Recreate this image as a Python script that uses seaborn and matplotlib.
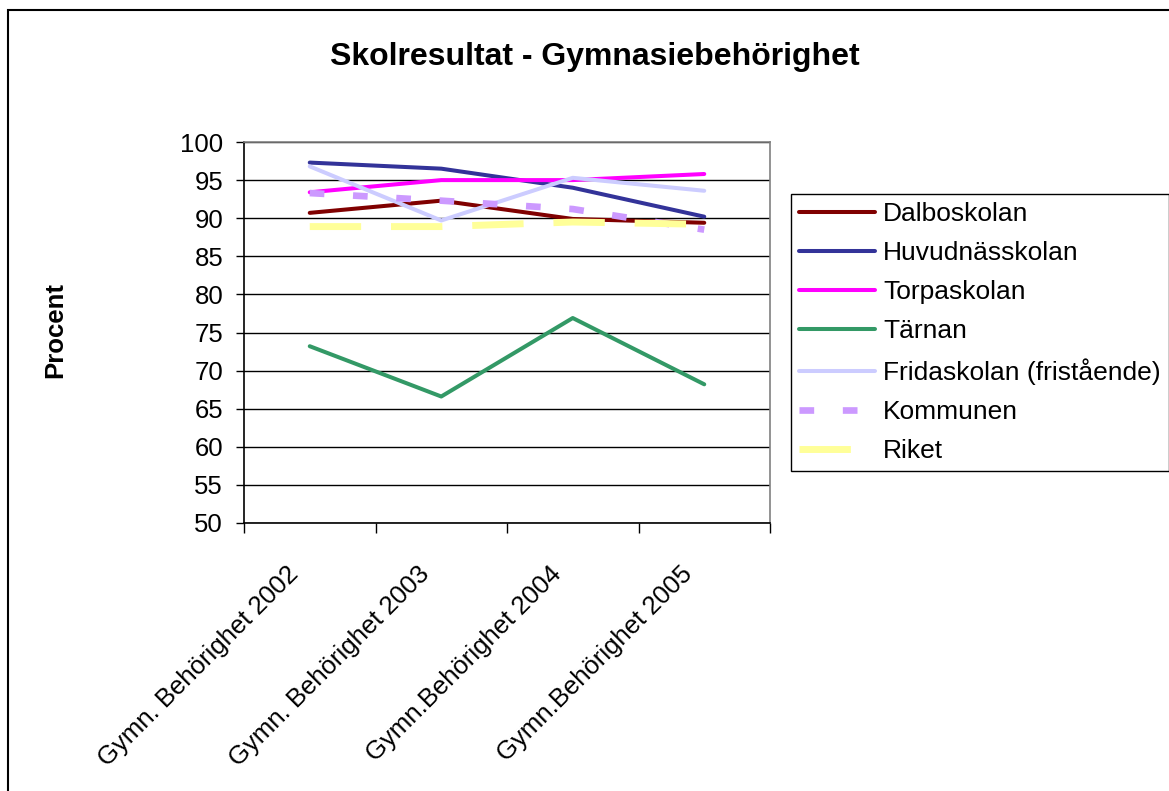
import numpy as np
import matplotlib
matplotlib.use('Agg')
import matplotlib.pyplot as plt
import seaborn as sns
from matplotlib.patches import Rectangle
from matplotlib.transforms import ScaledTranslation

kategorier = ['Gymn. Behörighet 2002', 'Gymn. Behörighet 2003',
              'Gymn.Behörighet 2004', 'Gymn.Behörighet 2005']
dalboskolan = [90.7, 92.3, 89.9, 89.4]
huvudnasskolan = [97.3, 96.5, 94.0, 90.2]
torpaskolan = [93.4, 95.0, 95.0, 95.8]
tarnan = [73.2, 66.6, 76.9, 68.2]
fridaskolan = [96.8, 89.7, 95.3, 93.6]
kommunen = [93.3, 92.3, 91.2, 88.5]
riket = [88.9, 88.9, 89.5, 89.2]

# namn, värden, färg, linjebredd, streckmönster
serier = [
    ('Dalboskolan', dalboskolan, '#800000', 2.9, None),
    ('Huvudnässkolan', huvudnasskolan, '#333399', 2.9, None),
    ('Torpaskolan', torpaskolan, '#FF00FF', 2.9, None),
    ('Tärnan', tarnan, '#339966', 2.9, None),
    ('Fridaskolan (fristående)', fridaskolan, '#CCCCFF', 2.9, None),
    ('Kommunen', kommunen, '#CC99FF', 4.8, (2.2, 4.3)),
    ('Riket', riket, '#FFFF99', 5.0, (7.4, 4.3)),
]

sns.set_style('white')
plt.rcParams['font.family'] = ['Liberation Sans', 'DejaVu Sans']
plt.rcParams['text.color'] = 'black'
plt.rcParams['xtick.color'] = 'black'
plt.rcParams['ytick.color'] = 'black'
plt.rcParams['axes.labelcolor'] = 'black'

fig = plt.figure(figsize=(11.69, 7.91), dpi=100)
ax = fig.add_axes([244 / 1169, 1 - 523 / 791, 526 / 1169, 381 / 791])

x = np.arange(len(kategorier))
for namn, varden, farg, lw, streck in serier:
    sns.lineplot(x=x, y=varden, ax=ax, color=farg, linewidth=lw, label=namn)
    linje = ax.lines[-1]
    if streck is None:
        linje.set_solid_capstyle('round')
        linje.set_solid_joinstyle('round')
    else:
        linje.set_dashes(streck)
        linje.set_dash_capstyle('butt')

if ax.get_legend() is not None:
    ax.get_legend().remove()

ax.set_ylim(50, 100)
ax.set_yticks(range(50, 101, 5))
ax.set_xlim(-0.5, len(kategorier) - 0.5)
ax.set_xticks(np.arange(-0.5, len(kategorier), 1))
ax.set_xticklabels([])
ax.set_xticks(x, minor=True)
ax.set_xticklabels(kategorier, minor=True, rotation=45, ha='right',
                   va='top', rotation_mode='anchor', fontsize=18.5)
ax.tick_params(axis='x', which='minor', length=0, pad=12)
ax.tick_params(axis='x', which='major', direction='out', length=7,
               width=1, color='black', bottom=True)
ax.tick_params(axis='y', direction='out', length=6, width=1,
               color='black', labelsize=18.5, pad=9, left=True)

# flytta kategoritexterna lite ned/vänster som i Excel
forskjut = ScaledTranslation(-24 / 100, -22 / 100, fig.dpi_scale_trans)
for lbl in ax.get_xticklabels(minor=True):
    lbl.set_transform(lbl.get_transform() + forskjut)

ax.yaxis.grid(True, color='black', linewidth=1)
ax.set_axisbelow(True)
ax.set_xlabel('')
ax.set_ylabel('')
for s in ['left', 'bottom']:
    ax.spines[s].set_color('black')
    ax.spines[s].set_linewidth(1.2)
for s in ['top', 'right']:
    ax.spines[s].set_color('#808080')
    ax.spines[s].set_linewidth(1.2)

fig.text(595 / 1169, 1 - 57 / 791, 'Skolresultat - Gymnasiebehörighet',
         ha='center', va='center', fontsize=23, fontweight='bold')
fig.text(55 / 1169, 1 - 330 / 791, 'Procent', rotation=90,
         ha='center', va='center', fontsize=18.5, fontweight='bold')

handles, labels = ax.get_legend_handles_labels()
fig.legend(handles, labels, loc='upper left',
           bbox_to_anchor=(791 / 1169, 1 - 194 / 791),
           frameon=True, fancybox=False, edgecolor='black', framealpha=1,
           fontsize=19, handlelength=2.9, handletextpad=0.3,
           borderpad=0.3, labelspacing=0.57, borderaxespad=0)

fig.patches.append(Rectangle((8 / 1169, -0.02), 1.1, 1 - 10 / 791 + 0.02,
                             transform=fig.transFigure, fill=False,
                             edgecolor='black', linewidth=1.5))

fig.savefig('out.png', dpi=100)
